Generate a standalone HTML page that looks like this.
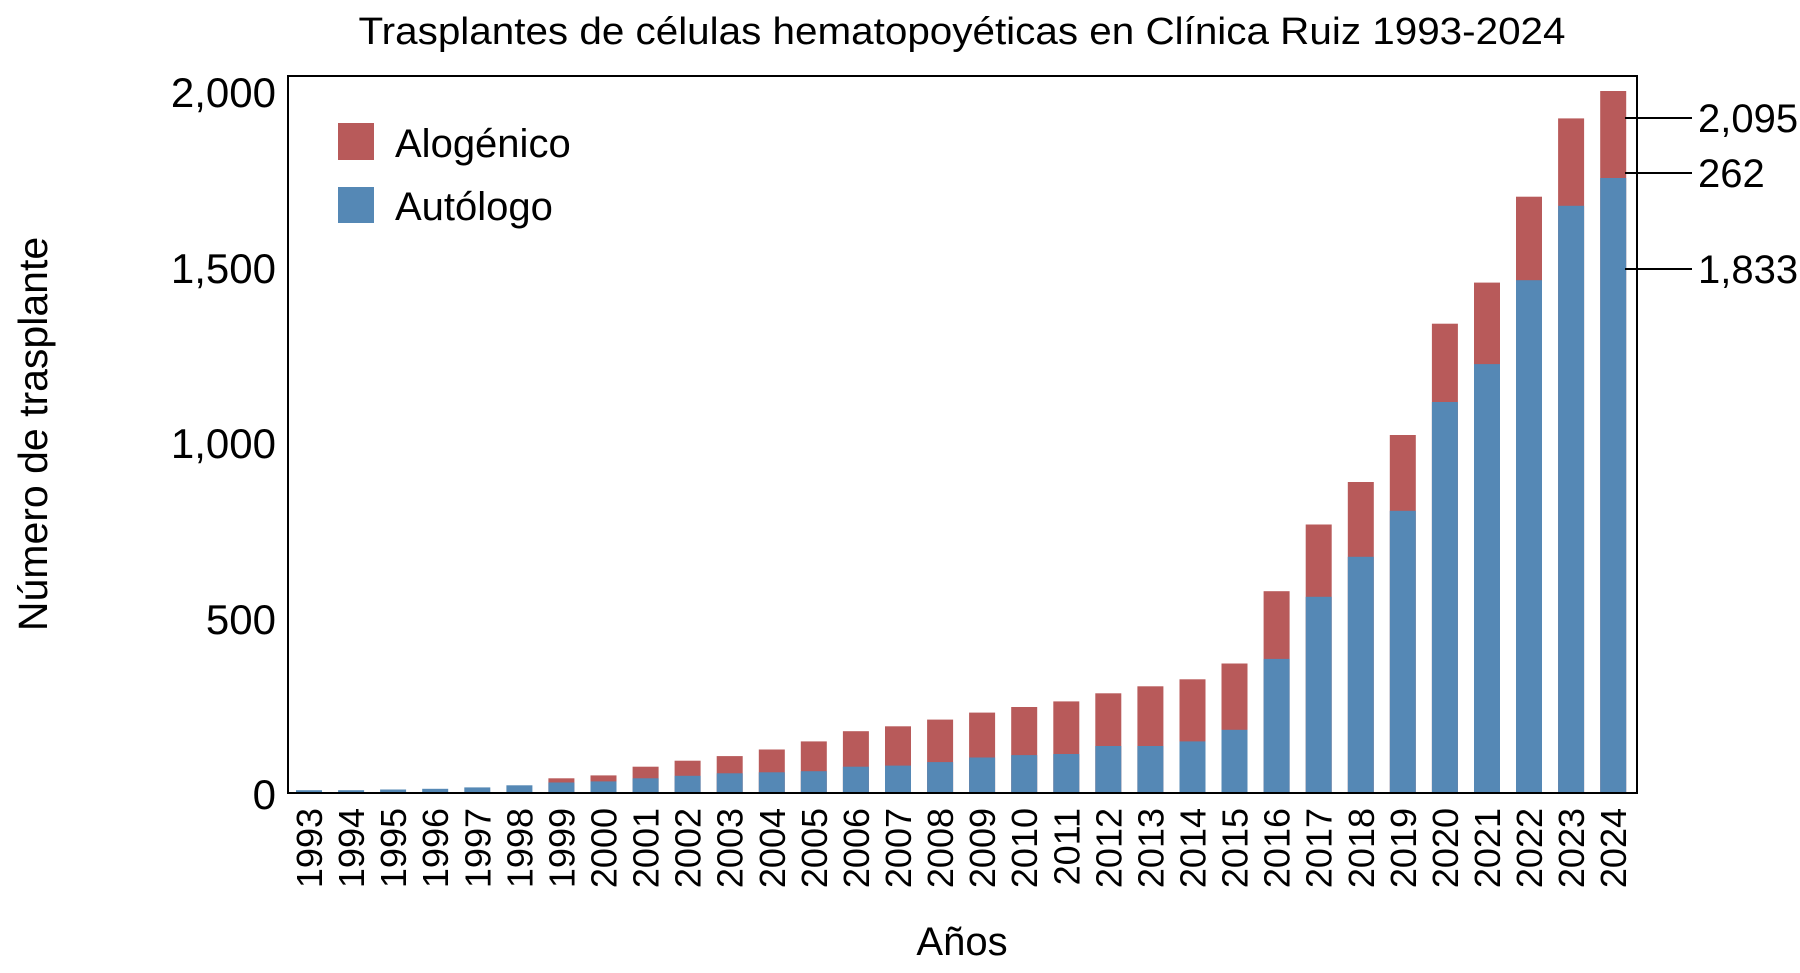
<!DOCTYPE html>
<html><head><meta charset="utf-8"><style>body{margin:0;background:#fff}svg{display:block}text{font-family:"Liberation Sans",sans-serif;fill:#000}</style></head><body>
<svg width="1800" height="973" xmlns="http://www.w3.org/2000/svg">
<text x="962" y="44" font-size="38" text-anchor="middle" textLength="1207" lengthAdjust="spacingAndGlyphs">Trasplantes de células hematopoyéticas en Clínica Ruiz 1993-2024</text>
<g fill="#b85a5a">
<rect x="548.4" y="778.3" width="26" height="14.7"/>
<rect x="590.5" y="775.4" width="26" height="17.6"/>
<rect x="632.6" y="766.7" width="26" height="26.3"/>
<rect x="674.6" y="760.7" width="26" height="32.3"/>
<rect x="716.7" y="756.1" width="26" height="36.9"/>
<rect x="758.8" y="749.5" width="26" height="43.5"/>
<rect x="800.8" y="741.4" width="26" height="51.6"/>
<rect x="842.9" y="731.2" width="26" height="61.8"/>
<rect x="885.0" y="726.3" width="26" height="66.7"/>
<rect x="927.1" y="719.6" width="26" height="73.4"/>
<rect x="969.1" y="712.6" width="26" height="80.4"/>
<rect x="1011.2" y="707.0" width="26" height="86.0"/>
<rect x="1053.3" y="701.4" width="26" height="91.6"/>
<rect x="1095.3" y="693.3" width="26" height="99.7"/>
<rect x="1137.4" y="686.3" width="26" height="106.7"/>
<rect x="1179.5" y="679.3" width="26" height="113.7"/>
<rect x="1221.5" y="663.5" width="26" height="129.5"/>
<rect x="1263.6" y="591.2" width="26" height="201.8"/>
<rect x="1305.7" y="524.5" width="26" height="268.5"/>
<rect x="1347.8" y="482.0" width="26" height="311.0"/>
<rect x="1389.8" y="435.0" width="26" height="358.0"/>
<rect x="1431.9" y="323.7" width="26" height="469.3"/>
<rect x="1474.0" y="282.6" width="26" height="510.4"/>
<rect x="1516.0" y="196.7" width="26" height="596.3"/>
<rect x="1558.1" y="118.4" width="26" height="674.6"/>
<rect x="1600.2" y="91.0" width="26" height="702.0"/>
</g>
<g fill="#5588b5">
<rect x="296" y="790.2" width="26" height="2.8"/>
<rect x="338.1" y="790.2" width="26" height="2.8"/>
<rect x="380.1" y="789.5" width="26" height="3.5"/>
<rect x="422.2" y="788.8" width="26" height="4.2"/>
<rect x="464.3" y="787.4" width="26" height="5.6"/>
<rect x="506.4" y="785.3" width="26" height="7.7"/>
<rect x="548.4" y="782.5" width="26" height="10.5"/>
<rect x="590.5" y="781.4" width="26" height="11.6"/>
<rect x="632.6" y="778.3" width="26" height="14.7"/>
<rect x="674.6" y="775.8" width="26" height="17.2"/>
<rect x="716.7" y="773.3" width="26" height="19.7"/>
<rect x="758.8" y="772.3" width="26" height="20.7"/>
<rect x="800.8" y="771.2" width="26" height="21.8"/>
<rect x="842.9" y="766.7" width="26" height="26.3"/>
<rect x="885.0" y="765.6" width="26" height="27.4"/>
<rect x="927.1" y="762.1" width="26" height="30.9"/>
<rect x="969.1" y="757.5" width="26" height="35.5"/>
<rect x="1011.2" y="755.1" width="26" height="37.9"/>
<rect x="1053.3" y="754.0" width="26" height="39.0"/>
<rect x="1095.3" y="746.0" width="26" height="47.0"/>
<rect x="1137.4" y="746.0" width="26" height="47.0"/>
<rect x="1179.5" y="741.4" width="26" height="51.6"/>
<rect x="1221.5" y="729.8" width="26" height="63.2"/>
<rect x="1263.6" y="658.9" width="26" height="134.1"/>
<rect x="1305.7" y="596.8" width="26" height="196.2"/>
<rect x="1347.8" y="556.8" width="26" height="236.2"/>
<rect x="1389.8" y="510.8" width="26" height="282.2"/>
<rect x="1431.9" y="402.0" width="26" height="391.0"/>
<rect x="1474.0" y="364.1" width="26" height="428.9"/>
<rect x="1516.0" y="280.2" width="26" height="512.8"/>
<rect x="1558.1" y="205.8" width="26" height="587.2"/>
<rect x="1600.2" y="178.0" width="26" height="615.0"/>
</g>
<rect x="288" y="76" width="1349" height="717" fill="none" stroke="#000" stroke-width="2"/>
<g font-size="42" text-anchor="end">
<text x="276" y="107">2,000</text><text x="276" y="283">1,500</text><text x="276" y="458">1,000</text><text x="276" y="634">500</text><text x="276" y="809">0</text>
</g>
<rect x="338" y="123" width="36" height="37" fill="#b85a5a"/>
<rect x="338" y="187" width="36" height="36" fill="#5588b5"/>
<text x="395" y="157" font-size="40">Alogénico</text>
<text x="395" y="220" font-size="40">Autólogo</text>
<text transform="translate(47,434) rotate(-90)" font-size="41" text-anchor="middle">Número de trasplante</text>
<text x="962" y="955" font-size="40" text-anchor="middle">Años</text>
<g stroke="#000" stroke-width="2">
<line x1="1625" y1="118" x2="1692" y2="118"/><line x1="1625" y1="173" x2="1692" y2="173"/><line x1="1625" y1="269" x2="1692" y2="269"/>
</g>
<g font-size="40">
<text x="1698" y="132">2,095</text><text x="1698" y="187">262</text><text x="1698" y="283">1,833</text>
</g>
<g font-size="36" text-anchor="end">
<text transform="translate(322,808) rotate(-90)">1993</text>
<text transform="translate(364.1,808) rotate(-90)">1994</text>
<text transform="translate(406.1,808) rotate(-90)">1995</text>
<text transform="translate(448.2,808) rotate(-90)">1996</text>
<text transform="translate(490.3,808) rotate(-90)">1997</text>
<text transform="translate(532.4,808) rotate(-90)">1998</text>
<text transform="translate(574.4,808) rotate(-90)">1999</text>
<text transform="translate(616.5,808) rotate(-90)">2000</text>
<text transform="translate(658.6,808) rotate(-90)">2001</text>
<text transform="translate(700.6,808) rotate(-90)">2002</text>
<text transform="translate(742.7,808) rotate(-90)">2003</text>
<text transform="translate(784.8,808) rotate(-90)">2004</text>
<text transform="translate(826.8,808) rotate(-90)">2005</text>
<text transform="translate(868.9,808) rotate(-90)">2006</text>
<text transform="translate(911.0,808) rotate(-90)">2007</text>
<text transform="translate(953.1,808) rotate(-90)">2008</text>
<text transform="translate(995.1,808) rotate(-90)">2009</text>
<text transform="translate(1037.2,808) rotate(-90)">2010</text>
<text transform="translate(1079.3,808) rotate(-90)">2011</text>
<text transform="translate(1121.3,808) rotate(-90)">2012</text>
<text transform="translate(1163.4,808) rotate(-90)">2013</text>
<text transform="translate(1205.5,808) rotate(-90)">2014</text>
<text transform="translate(1247.5,808) rotate(-90)">2015</text>
<text transform="translate(1289.6,808) rotate(-90)">2016</text>
<text transform="translate(1331.7,808) rotate(-90)">2017</text>
<text transform="translate(1373.8,808) rotate(-90)">2018</text>
<text transform="translate(1415.8,808) rotate(-90)">2019</text>
<text transform="translate(1457.9,808) rotate(-90)">2020</text>
<text transform="translate(1500.0,808) rotate(-90)">2021</text>
<text transform="translate(1542.0,808) rotate(-90)">2022</text>
<text transform="translate(1584.1,808) rotate(-90)">2023</text>
<text transform="translate(1626.2,808) rotate(-90)">2024</text>
</g>
</svg></body></html>
